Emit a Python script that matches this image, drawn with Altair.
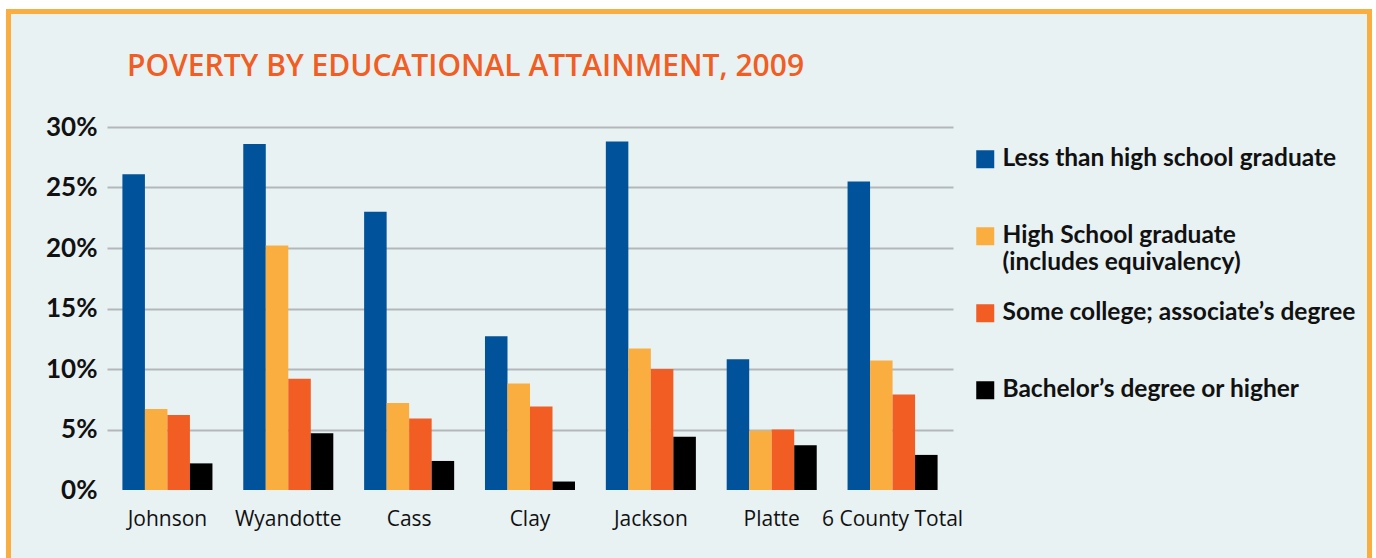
import altair as alt
import pandas as pd

counties = ["Johnson", "Wyandotte", "Cass", "Clay", "Jackson", "Platte", "6 County Total"]
levels = [
    "Less than high school graduate",
    "High School graduate (includes equivalency)",
    "Some college; associate’s degree",
    "Bachelor’s degree or higher",
]
less_than_hs = [26.1, 28.6, 23.0, 12.7, 28.8, 10.8, 25.5]
hs_grad = [6.7, 20.2, 7.2, 8.8, 11.7, 4.9, 10.7]
some_college = [6.2, 9.2, 5.9, 6.9, 10.0, 5.0, 7.9]
bachelors = [2.2, 4.7, 2.4, 0.7, 4.4, 3.7, 2.9]
colors = ["#00529B", "#FBAE40", "#F15D22", "#000000"]
y_ticks = [0, 5, 10, 15, 20, 25, 30]

series = [less_than_hs, hs_grad, some_college, bachelors]
rows = []
for lvl, vals in zip(levels, series):
    for c, v in zip(counties, vals):
        rows.append({"county": c, "level": lvl, "value": v})
df = pd.DataFrame(rows)

frame_df = pd.DataFrame({"k": [0]})

white_margin = alt.Chart(frame_df).mark_rect(
    fill=None, stroke="white", strokeWidth=12
).encode(
    x=alt.value(-107), x2=alt.value(1269), y=alt.value(-124), y2=alt.value(493)
)
orange_frame = alt.Chart(frame_df).mark_rect(
    fill=None, stroke="#FBAE40", strokeWidth=5
).encode(
    x=alt.value(-98.5), x2=alt.value(1262.5), y=alt.value(-115.5), y2=alt.value(473)
)

legend_expr = (
    "datum.label == 'High School graduate (includes equivalency)' ? "
    "['High School graduate', '(includes equivalency)'] : [datum.label, ' ']"
)

bars = alt.Chart(df).mark_bar().encode(
    x=alt.X(
        "county:N",
        sort=counties,
        scale=alt.Scale(paddingInner=0.255, paddingOuter=0.1275),
        axis=alt.Axis(
            title=None, labelAngle=0, domain=False, ticks=False,
            labelFont="Open Sans", labelFontSize=21, labelColor="#111111",
            labelPadding=18,
        ),
    ),
    xOffset=alt.XOffset("level:N", sort=levels, scale=alt.Scale(paddingInner=0, paddingOuter=0)),
    y=alt.Y(
        "value:Q",
        scale=alt.Scale(domain=[0, 30], nice=False),
        axis=alt.Axis(
            title=None, values=y_ticks, labelExpr="datum.value + '%'",
            domain=False, ticks=False,
            labelFont="Lato", labelFontWeight="bold", labelFontSize=26,
            labelColor="#111111", labelPadding=10,
            gridColor="#B4B7B9", gridWidth=2,
            gridOpacity={"condition": {"test": "datum.value === 0", "value": 0}, "value": 1},
        ),
    ),
    color=alt.Color(
        "level:N",
        sort=levels,
        scale=alt.Scale(domain=levels, range=colors),
        legend=alt.Legend(
            title=None, orient="none", legendX=866, legendY=20,
            symbolType="square", symbolSize=324, symbolStrokeWidth=0, symbolOpacity=1,
            labelFont="Lato", labelFontWeight="bold", labelFontSize=24.5,
            labelColor="#111111", labelLimit=600, labelOffset=5,
            rowPadding=25, labelExpr=legend_expr,
        ),
    ),
)

chart = alt.layer(white_margin, orange_frame, bars).properties(
    width=846,
    height=363,
    autosize=alt.AutoSizeParams(type="none"),
    padding={"left": 107, "top": 127, "right": 423, "bottom": 68},
    title=alt.TitleParams(
        "POVERTY BY EDUCATIONAL ATTAINMENT, 2009",
        anchor="start", frame="group", dx=20, offset=-109, baseline="alphabetic",
        font="Open Sans", fontWeight=600, fontSize=30, color="#F15D22",
    ),
).configure(background="#E8F2F3").configure_view(stroke=None)

chart.save("out.html", embed_options={"renderer": "svg", "actions": False})
